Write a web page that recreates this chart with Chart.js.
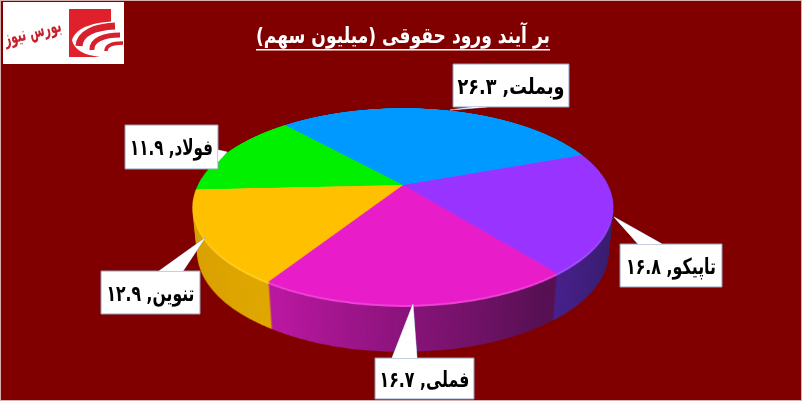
<!DOCTYPE html>
<html lang="fa">
<head>
<meta charset="utf-8">
<style>
  html, body { margin: 0; padding: 0; background: #800000; }
  #page { position: relative; width: 802px; height: 401px; overflow: hidden; background: #800000; }
  #page canvas { position: absolute; left: 193px; top: -25px; width: 420px !important; height: 420px !important; transform-origin: 50% 50%; }
  #overlay { position: absolute; left: 0; top: 0; }
  text { font-family: "DejaVu Sans", sans-serif; }
</style>
</head>
<body>
<div id="page">
  <canvas id="wall" width="420" height="420"></canvas>
  <canvas id="rim" width="420" height="420"></canvas>
  <canvas id="top" width="420" height="420"></canvas>
  <svg id="overlay" width="802" height="401" xmlns="http://www.w3.org/2000/svg"></svg>
</div>
<script src="https://cdn.jsdelivr.net/npm/chart.js@4"></script>
<script>
'use strict';

const categories = ['وبملت', 'تاپیکو', 'فملی', 'تنوین', 'فولاد'];
const values = [26.3, 16.8, 16.7, 12.9, 11.9];
const colors = ['#0099ff', '#9933ff', '#e81cc8', '#ffc000', '#00f000'];
const rimColors = ['#40b0ff', '#a850ff', '#f040d8', '#ffd020', '#40ff40'];
const wallStart = ['#004c80', '#4a2090', '#b8169f', '#d99f00', '#008000'];
const wallEnd = ['#004c80', '#321a66', '#560f52', '#e0a800', '#008000'];
const wallRange = [[0, 420], [325, 420], [110, 325], [0, 110], [0, 420]];
const titleText = 'بر آیند ورود حقوقی (میلیون سهم)';

// callout boxes [x1, y1, x2, y2], pointer [baseA, baseB, tip] and text width, same order as categories
const callouts = [
  { box: [453, 64, 569, 107], wedge: [[487, 107], [473, 107], [450, 110]], textWidth: 107 },
  { box: [620, 244, 722, 287], wedge: [[638, 244], [662, 244], [614, 217]], textWidth: 90 },
  { box: [375, 358, 474, 399], wedge: [[392, 358], [417, 358], [413, 304]], textWidth: 90 },
  { box: [101, 271, 200, 314], wedge: [[159, 271], [183, 271], [205, 238]], textWidth: 88 },
  { box: [125, 125, 218, 169], wedge: [[218, 150], [218, 162], [227, 152]], textWidth: 83 }
];

const tilt = 'perspective(836px) rotateX(62.8deg)';
const depth = 47;

function faDigits(n) {
  return String(n).replace(/\d/g, (d) => '۰۱۲۳۴۵۶۷۸۹'[d]);
}

function pieChart(canvas, background, ratio) {
  return new Chart(canvas, {
    type: 'pie',
    data: {
      labels: categories,
      datasets: [{ data: values, backgroundColor: background, borderWidth: 0 }]
    },
    options: {
      responsive: false,
      animation: false,
      devicePixelRatio: ratio,
      rotation: -42,
      events: [],
      layout: { padding: 5 },
      plugins: { legend: { display: false }, tooltip: { enabled: false } }
    }
  });
}

// side wall: flat pie with shaded colours, stacked downwards a pixel at a time
const wallCanvas = document.getElementById('wall');
const wallCtx = wallCanvas.getContext('2d');
const wallFill = categories.map((c, i) => {
  const g = wallCtx.createLinearGradient(wallRange[i][0], 0, wallRange[i][1], 0);
  g.addColorStop(0, wallStart[i]);
  g.addColorStop(1, wallEnd[i]);
  return g;
});
pieChart(wallCanvas, wallFill, 1);

const rimCanvas = document.getElementById('rim');
const topCanvas = document.getElementById('top');
for (let i = depth; i > 0; i--) {
  const layer = document.createElement('canvas');
  layer.width = wallCanvas.width;
  layer.height = wallCanvas.height;
  layer.getContext('2d').drawImage(wallCanvas, 0, 0);
  layer.style.transform = `translateY(${i}px) scaleX(${1 - i * 0.0005}) ${tilt}`;
  rimCanvas.parentNode.insertBefore(layer, rimCanvas);
}
wallCanvas.style.transform = tilt;
rimCanvas.style.transform = `translateY(2px) ${tilt}`;
topCanvas.style.transform = tilt;
pieChart(rimCanvas, rimColors, 2);
pieChart(topCanvas, colors, 2);

// logo, title and callouts
const svg = document.getElementById('overlay');
function add(tag, attrs, text) {
  const el = document.createElementNS('http://www.w3.org/2000/svg', tag);
  for (const k in attrs) el.setAttribute(k, attrs[k]);
  if (text) el.textContent = text;
  svg.appendChild(el);
  return el;
}

add('rect', { x: 0.5, y: 0.5, width: 801, height: 400, fill: 'none', stroke: '#d8b0b0' });

add('rect', { x: 3, y: 2, width: 121, height: 62, fill: '#fff' });
add('rect', { x: 69, y: 9, width: 42, height: 48, fill: '#e0202c' });
add('path', { d: 'M72 40 C76 27 95 21 124 21 L124 57 L100 57 C84 55 74 50 72 40 Z', fill: '#fff' });
add('path', { d: 'M79 46 C80 33 95 27 115 26', fill: 'none', stroke: '#d8202c', 'stroke-width': 7 });
add('path', { d: 'M92 50 C91 40 104 35 120 35', fill: 'none', stroke: '#d8202c', 'stroke-width': 5 });
add('path', { d: 'M106 51 C106 46 112 43 123 43', fill: 'none', stroke: '#d8202c', 'stroke-width': 3.5 });
add('text', { x: 34, y: 38, 'text-anchor': 'middle', 'font-size': 20, 'font-weight': 'bold', fill: '#c8202c', direction: 'rtl', textLength: 58, lengthAdjust: 'spacingAndGlyphs', transform: 'rotate(-14 34 38)' }, 'بورس نیوز');

add('text', { x: 403, y: 43, 'text-anchor': 'middle', 'font-size': 22, 'font-weight': 'bold', fill: '#fff', direction: 'rtl', textLength: 294, lengthAdjust: 'spacingAndGlyphs' }, titleText);
add('rect', { x: 256, y: 49, width: 294, height: 1.5, fill: '#fff' });

callouts.forEach((c, i) => {
  const [x1, y1, x2, y2] = c.box;
  const pts = [[x1, y1], [x2, y1], [x2, y2], [x1, y2]].map((p) => p.join(',')).join(' ');
  const wedge = c.wedge.map((p) => p.join(',')).join(' ');
  add('polygon', { points: wedge, fill: '#fff', stroke: '#8f9fc0' });
  add('polygon', { points: pts, fill: '#fff', stroke: '#8f9fc0', 'stroke-width': 1 });
  // hide the box outline where the pointer joins it
  add('polygon', { points: wedge, fill: '#fff' });
  add('text', { x: (x1 + x2) / 2, y: (y1 + y2) / 2 + 8, 'text-anchor': 'middle', 'font-size': 22, 'font-weight': 'bold', fill: '#000', direction: 'rtl', textLength: c.textWidth, lengthAdjust: 'spacingAndGlyphs' }, `${categories[i]}, ${faDigits(values[i])}`);
});
</script>
</body>
</html>
